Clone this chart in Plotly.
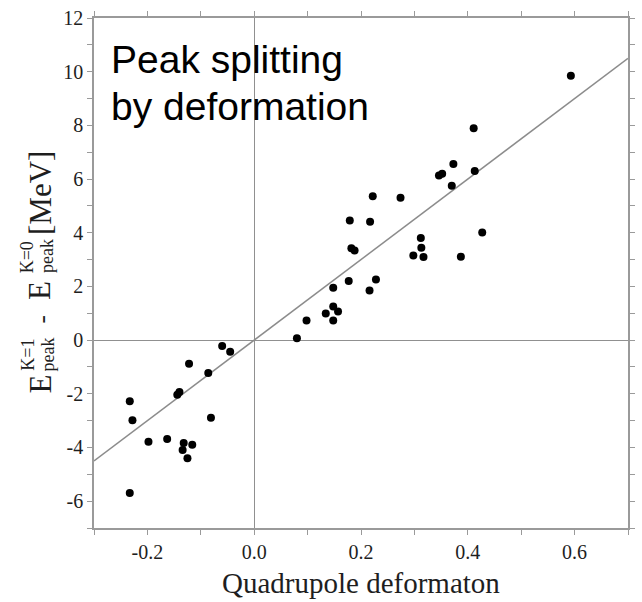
import plotly.graph_objects as go

# Data
deformation = [-0.060, -0.045, -0.122, -0.086, -0.140, -0.144, -0.233, -0.228, -0.081,
               -0.198, -0.163, -0.132, -0.116, -0.134, -0.125, -0.233,
               0.080, 0.098, 0.134, 0.148, 0.148, 0.157, 0.148, 0.177, 0.216, 0.228,
               0.182, 0.188, 0.312, 0.313, 0.298, 0.317,
               0.411, 0.373, 0.346, 0.352, 0.413, 0.370, 0.222, 0.274, 0.179, 0.217,
               0.427, 0.387, 0.593]
splitting = [-0.22, -0.43, -0.88, -1.23, -1.93, -2.04, -2.28, -2.99, -2.89,
             -3.79, -3.68, -3.83, -3.90, -4.09, -4.40, -5.70,
             0.07, 0.73, 0.99, 0.73, 1.25, 1.07, 1.95, 2.20, 1.85, 2.26,
             3.42, 3.34, 3.80, 3.44, 3.15, 3.10,
             7.89, 6.56, 6.13, 6.20, 6.30, 5.75, 5.36, 5.30, 4.46, 4.41,
             4.01, 3.11, 9.85]

fit_x = [-0.3, 0.7]
fit_slope = 15.0
fit_y = [fit_slope * v for v in fit_x]

x_tickvals = [-0.3, -0.2, -0.1, 0.0, 0.1, 0.2, 0.3, 0.4, 0.5, 0.6, 0.7]
x_ticktext = ["", "-0.2", "", "0.0", "", "0.2", "", "0.4", "", "0.6", ""]
y_tickvals = list(range(-7, 13))
y_ticktext = [str(v) if v % 2 == 0 else "" for v in y_tickvals]

W, H = 642, 602
ML, MR, MT, MB = 94, 7, 15, 74
PW, PH = W - ML - MR, H - MT - MB

def px_x(px):
    return (px - ML) / PW

def px_y(py):
    return (H - MB - py) / PH

AXC = "#9a9a9a"
TXT = "#1e1e1e"
SERIF = "Liberation Serif"

fig = go.Figure()
fig.add_trace(go.Scatter(x=fit_x, y=fit_y, mode="lines",
                         line=dict(color="#8c8c8c", width=1.5),
                         hoverinfo="skip", showlegend=False))
fig.add_trace(go.Scatter(x=deformation, y=splitting, mode="markers",
                         marker=dict(color="black", size=8),
                         showlegend=False))

axis_common = dict(showgrid=False, showline=True, linecolor=AXC, linewidth=1.5,
                   mirror="ticks", ticks="outside", ticklen=5, tickwidth=1.2,
                   tickcolor=AXC, zeroline=True, zerolinecolor="#909090",
                   zerolinewidth=1.2,
                   tickfont=dict(family=SERIF, size=20, color=TXT))

fig.update_xaxes(range=[-0.3, 0.7], tickmode="array", tickvals=x_tickvals,
                 ticktext=x_ticktext, **axis_common)
fig.update_yaxes(range=[-7, 12], tickmode="array", tickvals=y_tickvals,
                 ticktext=y_ticktext, **axis_common)

annotations = []
# x title
annotations.append(dict(text="Quadrupole deformaton", xref="paper", yref="paper",
                        x=px_x((ML + W - MR) / 2), y=px_y(593 - 0.3375 * 29),
                        xanchor="center", yanchor="middle", showarrow=False,
                        borderpad=0, borderwidth=0,
                        font=dict(family=SERIF, size=29, color=TXT)))

# rotated y title built from pieces (text, size, baseline x px, start y px)
pieces = [("E", 31, 50, 393), ("peak", 18, 53, 371), ("K=1", 18, 33, 370),
          ("-", 25, 49, 322), ("E", 31, 50, 299), ("peak", 18, 53, 272),
          ("K=0", 18, 33, 272), ("[MeV]", 31, 50, 233)]
for t, s, bx, sy in pieces:
    annotations.append(dict(text=t, xref="paper", yref="paper",
                            x=px_x(bx - 0.3375 * s), y=px_y(sy),
                            xanchor="center", yanchor="bottom", textangle=-90,
                            showarrow=False, borderpad=0, borderwidth=0,
                            font=dict(family=SERIF, size=s, color=TXT)))

# in-plot label
for t, base in [("Peak splitting", 70), ("by deformation", 118)]:
    annotations.append(dict(text=t, xref="paper", yref="paper",
                            x=px_x(111), y=px_y(base - 0.3465 * 39),
                            xanchor="left", yanchor="middle", showarrow=False,
                            borderpad=0, borderwidth=0,
                            font=dict(family="Liberation Sans", size=39, color="black")))

fig.update_layout(width=W, height=H, margin=dict(l=ML, r=MR, t=MT, b=MB),
                  paper_bgcolor="white", plot_bgcolor="white",
                  annotations=annotations, showlegend=False)

fig.write_html("out.html")
